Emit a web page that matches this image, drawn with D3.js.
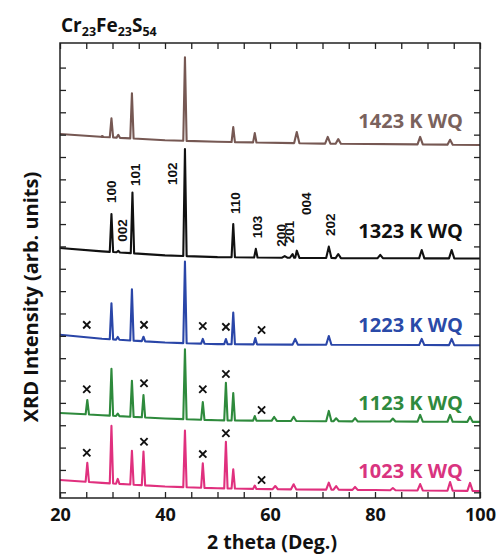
<!DOCTYPE html>
<html><head><meta charset="utf-8">
<script src="https://cdn.jsdelivr.net/npm/d3@7"></script>
<style>body{margin:0;background:#fff}</style></head>
<body><svg id="c" width="498" height="557"></svg>
<script>
// ---------- data (2theta in deg, intensity in stacked arb. units) ----------
const seriesNames = ["1423 K WQ","1323 K WQ","1223 K WQ","1123 K WQ","1023 K WQ"];
const seriesColors = ["#765853","#111111","#2a46a8","#2e8a3c","#e0307e"];
const labelColors = ["#7a625d","#111111","#2a4aa8","#2f8a3e","#d9347f"];

const base1423 = [[20,16.03],[28,15.9],[40,15.75],[50,15.68],[70,15.6],[100,15.54]];
const peaks1423 = [[28.0,15.94],[29.8,16.73],[31.1,15.99],[33.7,17.85],[43.8,19.46],[53.0,16.34],[57.1,16.07],[65.1,16.12],[71.0,15.9],[73.0,15.8],[88.6,15.9],[94.3,15.77]];

const base1323 = [[20,10.93],[28,10.78],[40,10.6],[50,10.52],[70,10.48],[100,10.46]];
const peaks1323 = [[29.8,12.45],[31.1,10.8],[33.8,13.41],[43.8,15.36],[53.0,12.0],[57.3,10.89],[62.8,10.57],[64.3,10.66],[65.1,10.81],[71.2,10.99],[73.0,10.66],[81.0,10.62],[88.9,10.84],[94.6,10.84]];

const base1223 = [[20,7.05],[28,6.87],[40,6.7],[50,6.63],[70,6.6],[100,6.58]];
const peaks1223 = [[29.8,8.46],[31.0,6.95],[33.7,9.08],[35.9,6.96],[43.8,10.32],[47.2,6.86],[51.6,6.86],[53.0,8.04],[57.2,6.9],[64.8,6.86],[71.2,6.99],[88.9,6.86],[94.6,6.86]];

const base1123 = [[20,3.55],[28,3.45],[40,3.3],[50,3.22],[70,3.18],[100,3.15]];
const peaks1123 = [[25.2,4.13],[29.8,5.52],[31.0,3.52],[33.7,4.99],[35.9,4.35],[43.8,6.4],[47.2,4.04],[51.6,4.9],[53.0,4.44],[57.1,3.41],[60.8,3.37],[64.5,3.38],[71.2,3.64],[72.6,3.31],[76.2,3.32],[83.4,3.3],[88.6,3.46],[94.3,3.46],[98.1,3.38]];

const base1023 = [[20,0.55],[28,0.42],[40,0.26],[50,0.18],[60,0.14],[80,0.1],[100,0.06]];
const peaks1023 = [[25.2,1.32],[29.8,2.97],[31.0,0.6],[33.7,1.86],[35.9,1.82],[43.8,2.76],[47.2,1.3],[51.6,2.26],[53.0,1.03],[57.1,0.3],[61.0,0.28],[64.5,0.36],[71.2,0.43],[72.6,0.28],[76.2,0.24],[83.4,0.19],[88.6,0.37],[94.3,0.46],[98.1,0.42]];

const bases = [base1423, base1323, base1223, base1123, base1023];
const peaks = [peaks1423, peaks1323, peaks1223, peaks1123, peaks1023];

// impurity (x) markers: [2theta, intensity]
const marks1223 = [[25.1,7.49],[36.0,7.49],[47.2,7.44],[51.6,7.40],[58.4,7.26]];
const marks1123 = [[25.1,4.61],[36.0,4.88],[47.2,4.61],[51.6,5.29],[58.4,3.68]];
const marks1023 = [[25.1,1.77],[36.0,2.26],[47.2,1.71],[51.6,2.64],[58.4,0.55]];

// Miller indices for 1323 K pattern: [label, 2theta, intensity at label start]
const hklLabels = [["100",29.66,12.94],["002",31.87,11.21],["101",34.29,13.70],["102",41.28,13.75],["110",53.3,12.45],["103",57.47,11.36],["200",62.1,10.99],["201",63.6,11.14],["004",66.86,12.41],["202",71.43,11.47]];

const xTicks = d3.range(20,101,5);
const xTickLabels = [20,40,60,80,100];
const yTicks = d3.range(0,20,1);
const seriesLabelY = [16.30,11.38,7.18,3.68,0.64];

// ---------- layout ----------
const svg = d3.select("#c");
const L=60,R=480,T=43,B=498;
const x = d3.scaleLinear().domain([20,100]).range([L,R]);
const y = d3.scaleLinear().domain([-0.255,20.1]).range([B,T]);
const FONT = "'Open Sans', 'DejaVu Sans', sans-serif";

// ---------- traces ----------
function buildPoints(base, pk){
  const bl = d3.scaleLinear().domain(base.map(d=>d[0])).range(base.map(d=>d[1]));
  const pts = base.map(d=>[d[0],d[1]]);
  pk.forEach(([p,top])=>{
    const w = p<60 ? 0.32 : 0.5;
    pts.push([p-w, bl(p-w)],[p,top],[p+w, bl(p+w)]);
  });
  pts.sort((a,b)=>a[0]-b[0]);
  return pts;
}
const line = d3.line().x(d=>x(d[0])).y(d=>y(d[1]));
bases.forEach((b,i)=>{
  svg.append("path").attr("d", line(buildPoints(b,peaks[i])))
    .attr("fill","none").attr("stroke",seriesColors[i]).attr("stroke-width",2.1)
    .attr("stroke-linejoin","round");
});

// ---------- axes ----------
const tickLen = 6;
const gx = svg.append("g").attr("transform",`translate(0,${B})`)
  .call(d3.axisBottom(x).tickValues(xTicks).tickSizeInner(-tickLen).tickSizeOuter(0)
    .tickFormat(d=>xTickLabels.includes(d)?d:""));
const gxt = svg.append("g").attr("transform",`translate(0,${T})`)
  .call(d3.axisTop(x).tickValues(xTicks).tickSizeInner(-tickLen).tickSizeOuter(0).tickFormat(""));
const gy = svg.append("g").attr("transform",`translate(${L},0)`)
  .call(d3.axisLeft(y).tickValues(yTicks).tickSizeInner(-tickLen).tickSizeOuter(0).tickFormat(""));
const gyr = svg.append("g").attr("transform",`translate(${R},0)`)
  .call(d3.axisRight(y).tickValues(yTicks).tickSizeInner(-tickLen).tickSizeOuter(0).tickFormat(""));
[gx,gxt,gy,gyr].forEach(g=>{
  g.select(".domain").remove();
  g.selectAll(".tick line").attr("stroke","#222").attr("stroke-width",1.3);
});
gx.selectAll(".tick text").attr("font-family",FONT).attr("font-weight","bold")
  .attr("font-size",18).attr("fill","#111").attr("dy",0).attr("y",23);
svg.append("rect").attr("x",L).attr("y",T).attr("width",R-L).attr("height",B-T)
  .attr("fill","none").attr("stroke","#222").attr("stroke-width",1.5);

// ---------- markers ----------
[marks1223,marks1123,marks1023].forEach(ms=>{
  ms.forEach(([a,b])=>{
    const cx=x(a), cy=y(b), s=3.6;
    svg.append("path").attr("d",`M${cx-s},${cy-s}L${cx+s},${cy+s}M${cx-s},${cy+s}L${cx+s},${cy-s}`)
      .attr("stroke","#111").attr("stroke-width",1.9);
  });
});

// ---------- hkl labels ----------
hklLabels.forEach(([t,a,b])=>{
  svg.append("text").attr("transform",`translate(${x(a)},${y(b)}) rotate(-90)`)
    .attr("dy","0.36em").attr("font-family","'Liberation Sans', Arial, sans-serif")
    .attr("font-weight","bold").attr("font-size",13.5).attr("fill","#111").text(t);
});

// ---------- series labels ----------
seriesNames.forEach((n,i)=>{
  svg.append("text").attr("x",463).attr("y",y(seriesLabelY[i]))
    .attr("text-anchor","end").attr("font-family",FONT).attr("font-weight","bold")
    .attr("font-size",20).attr("fill",labelColors[i]).text(n);
});

// ---------- titles ----------
const title = svg.append("text").attr("x",61).attr("y",32).attr("font-family",FONT)
  .attr("font-weight","bold").attr("font-size",19).attr("fill","#111");
[["Cr",false],["23",true],["Fe",false],["23",true],["S",false],["54",true]].forEach(([t,sub],k)=>{
  const ts = title.append("tspan").text(t);
  if(sub) ts.attr("font-size",12.5).attr("dy",4); else ts.attr("dy",k>0?-4:0);
});
svg.append("text").attr("x",272).attr("y",549).attr("text-anchor","middle")
  .attr("font-family",FONT).attr("font-weight","bold").attr("font-size",19.5).attr("fill","#111")
  .text("2 theta (Deg.)");
svg.append("text").attr("transform","translate(38,297) rotate(-90)").attr("text-anchor","middle")
  .attr("font-family",FONT).attr("font-weight","bold").attr("font-size",20).attr("fill","#111")
  .text("XRD Intensity (arb. units)");
</script></body></html>
